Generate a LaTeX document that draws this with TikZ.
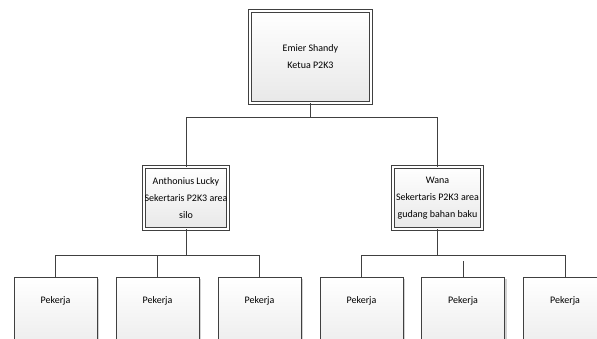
\documentclass[tikz,border=0pt]{standalone}
\usepackage{fontspec}
\setmainfont{Carlito}
\usetikzlibrary{shadows}
\definecolor{edge}{HTML}{404040}
\tikzset{
  boxbase/.style={draw=edge, line width=0.8pt, top color=white, bottom color=gray!18,
    drop shadow={shadow xshift=2pt, shadow yshift=-2pt, opacity=0.35, fill=gray},
    font=\fontsize{10}{17}\selectfont, align=center, inner sep=0pt},
  headbox/.style={boxbase, double=white, double distance=1.6pt},
  workbox/.style={boxbase, anchor=north, minimum width=83pt, text height=26pt, text depth=60pt},
  link/.style={draw=edge, line width=0.9pt}
}
\begin{document}
\begin{tikzpicture}[x=1pt,y=-1pt]
\path[use as bounding box, clip] (0,0) rectangle (597,339);
\fill[white] (0,0) rectangle (597,339);
\node[headbox, minimum width=121pt, minimum height=92pt] (top) at (310.5,57) {Emier Shandy\\Ketua P2K3};
\node[headbox, minimum width=84pt, minimum height=62pt] (L) at (186,198) {Anthonius Lucky\\Sekertaris P2K3 area\\silo};
\node[headbox, minimum width=89pt, minimum height=62pt] (R) at (437.5,198) {Wana\\Sekertaris P2K3 area\\gudang bahan baku};
\node[workbox] (p1) at (55.5,277) {Pekerja};
\node[workbox] (p2) at (157.5,277) {Pekerja};
\node[workbox] (p3) at (259.5,277) {Pekerja};
\node[workbox] (p4) at (361.5,277) {Pekerja};
\node[workbox] (p5) at (463,277) {Pekerja};
\node[workbox] (p6) at (565,277) {Pekerja};
\draw[link] (top.south) -- ++(0,14) coordinate (b1);
\draw[link] (b1) -| (L.north);
\draw[link] (b1) -| (R.north);
\draw[link] (L.south) -- ++(0,26) coordinate (b2);
\draw[link] (b2) -| (p1.north);
\draw[link] (b2) -| (p2.north);
\draw[link] (b2) -| (p3.north);
\draw[link] (R.south) -- ++(0,26) coordinate (b3);
\draw[link] (b3) -| (p4.north);
\draw[link] (b3) -| (p6.north);
\draw[link] (p5.north) -- ++(0,-16) coordinate (b4);
\end{tikzpicture}
\end{document}
